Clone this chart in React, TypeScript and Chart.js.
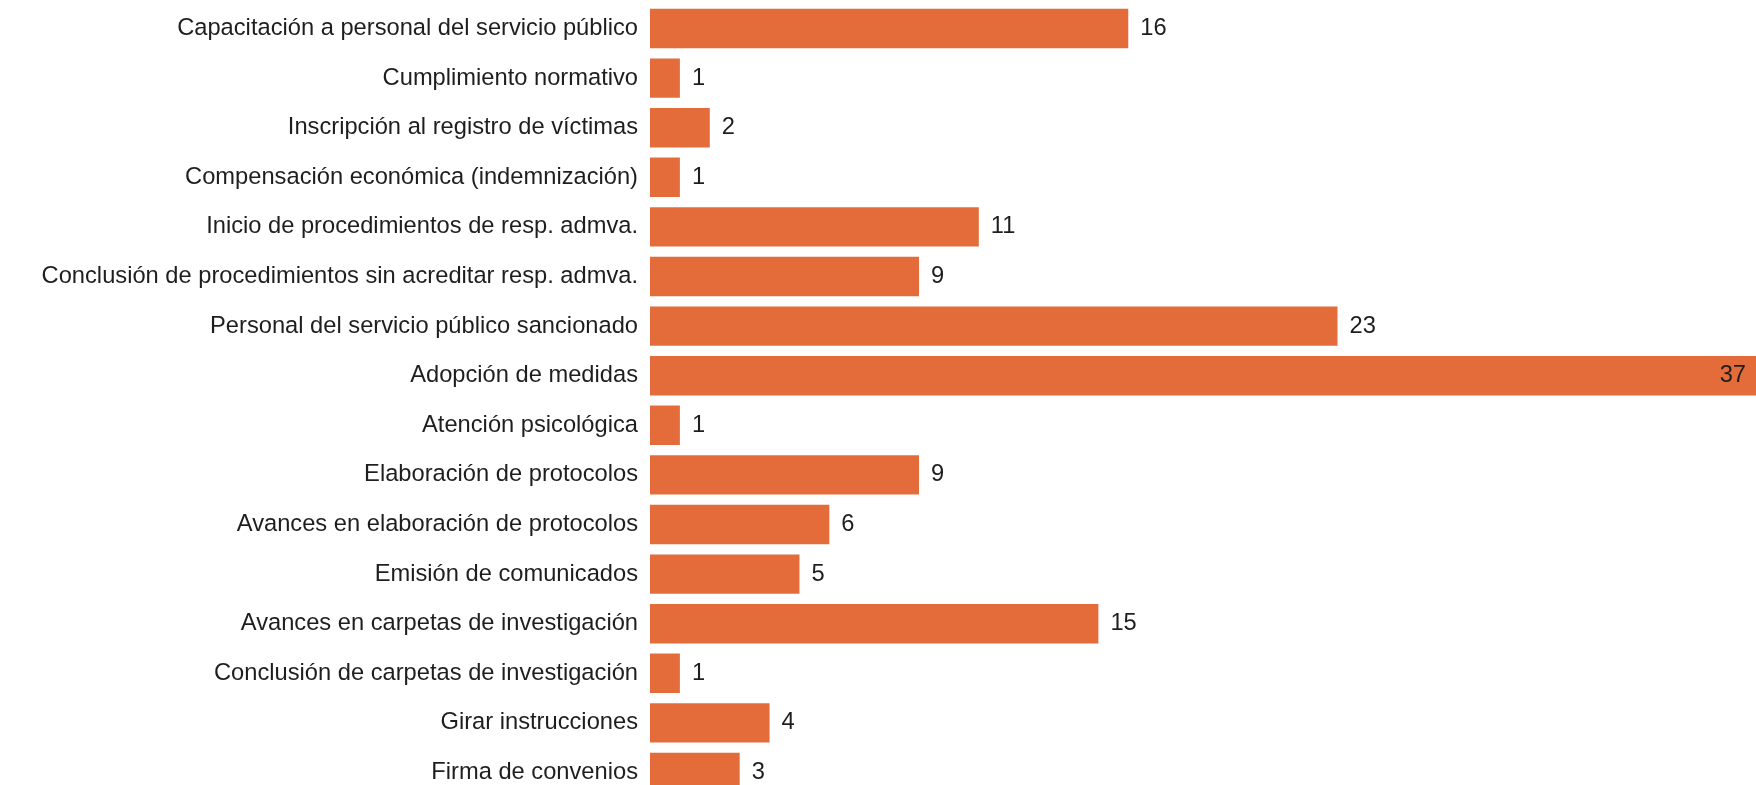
import React, { useEffect, useRef } from "react";
import { Chart, registerables } from "chart.js";

Chart.register(...registerables);

const categories: string[] = [
  "Capacitación a personal del servicio público",
  "Cumplimiento normativo",
  "Inscripción al registro de víctimas",
  "Compensación económica (indemnización)",
  "Inicio de procedimientos de resp. admva.",
  "Conclusión de procedimientos sin acreditar resp. admva.",
  "Personal del servicio público sancionado",
  "Adopción de medidas",
  "Atención psicológica",
  "Elaboración de protocolos",
  "Avances en elaboración de protocolos",
  "Emisión de comunicados",
  "Avances en carpetas de investigación",
  "Conclusión de carpetas de investigación",
  "Girar instrucciones",
  "Firma de convenios",
];

const values: number[] = [16, 1, 2, 1, 11, 9, 23, 37, 1, 9, 6, 5, 15, 1, 4, 3];

const BAR_COLOR = "#E46C3A";
const TEXT_COLOR = "#1e1e1e";
const FONT_FAMILY = "'Liberation Sans', Arial, sans-serif";
const FONT_SIZE = 23.7;

const valueLabels = {
  id: "valueLabels",
  afterDatasetsDraw(chart: any) {
    const ctx = chart.ctx;
    const area = chart.chartArea;
    const meta = chart.getDatasetMeta(0);
    ctx.save();
    ctx.font = `${FONT_SIZE}px ${FONT_FAMILY}`;
    ctx.fillStyle = TEXT_COLOR;
    ctx.textBaseline = "middle";
    meta.data.forEach((bar: any, i: number) => {
      const text = String(values[i]);
      const w = ctx.measureText(text).width;
      if (bar.x + 12 + w > area.right) {
        ctx.textAlign = "right";
        ctx.fillText(text, bar.x - 10, bar.y);
      } else {
        ctx.textAlign = "left";
        ctx.fillText(text, bar.x + 12, bar.y);
      }
    });
    ctx.restore();
  },
};

export default function App() {
  const ref = useRef<HTMLCanvasElement | null>(null);
  useEffect(() => {
    if (!ref.current) return;
    const chart = new Chart(ref.current, {
      type: "bar",
      data: {
        labels: categories,
        datasets: [
          {
            data: values,
            backgroundColor: BAR_COLOR,
            borderWidth: 0,
            categoryPercentage: 1,
            barPercentage: 0.794,
          },
        ],
      },
      options: {
        indexAxis: "y",
        animation: false,
        responsive: false,
        devicePixelRatio: 1,
        layout: { padding: { top: 3.7, bottom: 2.7, left: 0, right: 0 } },
        plugins: {
          legend: { display: false },
          tooltip: { enabled: false },
        },
        scales: {
          x: {
            display: false,
            min: 0,
            max: 37,
          },
          y: {
            grid: { display: false, drawTicks: false },
            border: { display: false },
            ticks: {
              color: TEXT_COLOR,
              padding: 12,
              autoSkip: false,
              font: { family: FONT_FAMILY, size: FONT_SIZE },
            },
            afterFit(scale: any) {
              scale.width = 650;
              scale.paddingTop = 0;
              scale.paddingBottom = 0;
            },
          },
        },
      },
      plugins: [valueLabels],
    });
    return () => chart.destroy();
  }, []);
  return (
    <div
      style={{
        position: "fixed",
        left: 0,
        top: 0,
        width: 1756,
        height: 785,
        overflow: "hidden",
        background: "#ffffff",
      }}
    >
      <canvas ref={ref} width={1756} height={800} style={{ display: "block" }} />
    </div>
  );
}
